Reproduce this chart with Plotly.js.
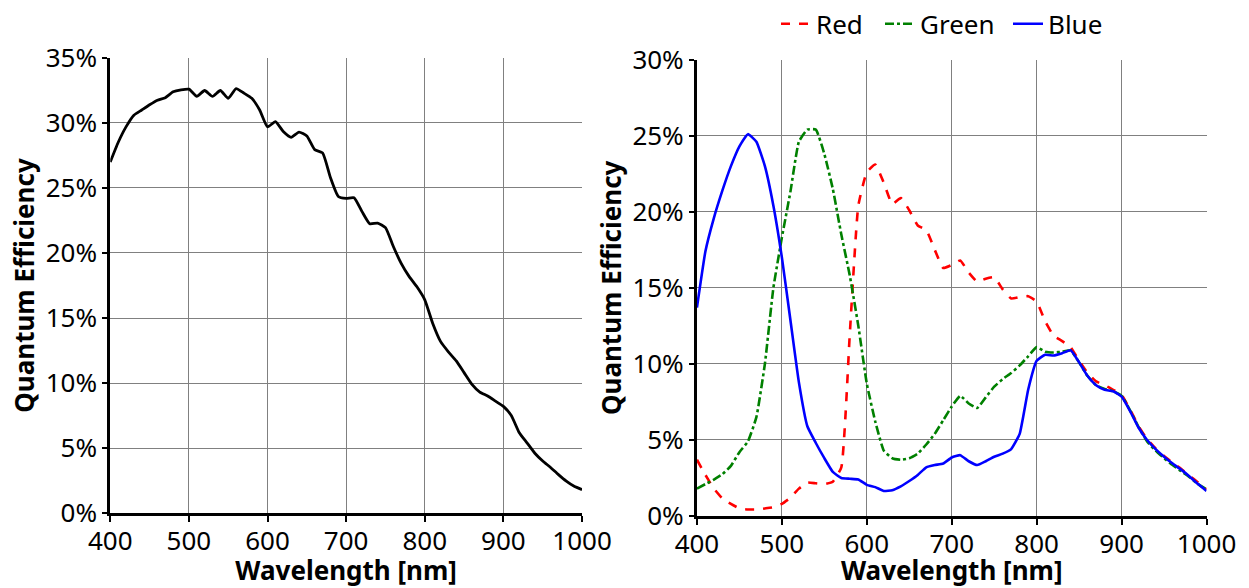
<!DOCTYPE html>
<html>
<head>
<meta charset="utf-8">
<script src="https://cdn.plot.ly/plotly-3.0.1.min.js"></script>
<style>
  html, body { margin: 0; padding: 0; background: #fff; }
  #chart { width: 1249px; height: 588px; }
</style>
</head>
<body>
<div id="chart"></div>
<script>
// ---- Data (wavelength in nm, quantum efficiency in %) ----
const monoWavelength = [400,410,420,430,440,450,460,470,480,490,500,510,520,530,540,550,560,570,580,590,600,610,620,630,640,650,660,670,680,690,700,710,720,730,740,750,760,770,780,790,800,810,820,830,840,850,860,870,880,890,900,910,920,930,940,950,960,970,980,990,1000];
const monoQE = [27.0,28.5,29.7,30.6,31.0,31.4,31.75,31.95,32.4,32.55,32.6,32.05,32.5,32.05,32.5,31.9,32.65,32.3,31.9,31.0,29.7,30.1,29.35,28.9,29.3,29.0,27.95,27.7,25.8,24.35,24.2,24.25,23.2,22.25,22.3,21.95,20.5,19.2,18.2,17.4,16.4,14.6,13.2,12.4,11.7,10.8,9.9,9.3,9.0,8.6,8.2,7.5,6.2,5.4,4.6,4.0,3.5,2.95,2.45,2.05,1.8];

const colorWavelength = [400,410,420,430,440,450,460,470,480,490,500,510,520,530,540,550,560,570,580,590,600,610,620,630,640,650,660,670,680,690,700,710,720,730,740,750,760,770,780,790,800,810,820,830,840,850,860,870,880,890,900,910,920,930,940,950,960,970,980,990,1000];
const redQE = [3.7,2.7,1.8,1.15,0.8,0.5,0.43,0.43,0.5,0.58,0.8,1.2,1.8,2.2,2.15,2.1,2.25,3.2,12.0,20.4,22.6,23.1,21.9,20.5,20.9,20.1,19.1,18.8,17.5,16.3,16.5,16.8,16.0,15.4,15.6,15.7,14.9,14.3,14.4,14.45,14.1,12.8,11.85,11.5,11.1,10.2,9.4,8.85,8.6,8.3,7.95,7.0,5.9,5.05,4.45,3.95,3.5,3.1,2.65,2.2,1.75];
const greenQE = [1.8,2.1,2.4,2.75,3.3,4.2,4.9,6.5,10.0,15.0,18.3,21.3,24.6,25.4,25.4,23.8,21.5,18.5,15.8,12.5,8.7,6.2,4.3,3.8,3.7,3.8,4.1,4.7,5.4,6.3,7.2,7.9,7.4,7.1,7.8,8.5,9.0,9.4,9.9,10.5,11.1,10.8,10.75,10.8,10.9,10.1,9.2,8.6,8.35,8.2,7.9,6.95,5.85,4.9,4.3,3.8,3.35,2.95,2.55,2.1,1.75];
const blueQE = [13.7,17.4,19.6,21.4,23.0,24.3,25.1,24.6,23.0,20.4,17.0,12.9,8.8,5.9,4.8,3.8,2.9,2.5,2.45,2.4,2.05,1.9,1.65,1.7,1.95,2.3,2.7,3.2,3.35,3.45,3.85,4.0,3.6,3.35,3.6,3.9,4.1,4.4,5.4,8.3,10.2,10.6,10.55,10.7,10.9,10.1,9.2,8.6,8.3,8.2,7.85,6.9,5.8,5.0,4.4,3.9,3.45,3.05,2.6,2.1,1.65];

const xTickVals = [400,500,600,700,800,900,1000];
const seriesNames = ['Red','Green','Blue'];

// ---- Styling ----
const FONT = '"Noto Sans", "Open Sans", sans-serif';
const TICKFONT = {family: FONT, size: 26, color: '#000'};
const TITLEFONT = {family: FONT, size: 26, color: '#000', weight: 'bold'};

function xAxis(domain, anchor) {
  return {
    domain: domain, anchor: anchor,
    range: [400, 1000], tickvals: xTickVals,
    showgrid: true, gridcolor: '#808080', gridwidth: 1,
    showline: true, linecolor: '#000', linewidth: 3,
    ticks: 'outside', ticklen: 6, tickwidth: 2, tickcolor: '#000',
    tickfont: TICKFONT, zeroline: false, ticklabelstandoff: -3,
    title: {text: 'Wavelength [nm]', font: TITLEFONT, standoff: 2}
  };
}
function yAxis(domain, anchor, max) {
  return {
    domain: domain, anchor: anchor,
    range: [0, max], dtick: 5, ticksuffix: '%',
    showgrid: true, gridcolor: '#808080', gridwidth: 1,
    showline: true, linecolor: '#000', linewidth: 3,
    ticks: 'outside', ticklen: 5, tickwidth: 2, tickcolor: '#000',
    tickfont: TICKFONT, zeroline: false,
    title: {text: 'Quantum Efficiency', font: TITLEFONT, standoff: 4}
  };
}

const traces = [
  {x: monoWavelength, y: monoQE, xaxis: 'x', yaxis: 'y', mode: 'lines',
   line: {color: '#000', width: 2.8, shape: 'spline', smoothing: 0.5}, showlegend: false, name: 'Mono'},
  {x: colorWavelength, y: redQE, xaxis: 'x2', yaxis: 'y2', mode: 'lines', name: seriesNames[0], legend: 'legend',
   line: {color: '#ff0000', width: 2.6, dash: 'dash', shape: 'spline', smoothing: 0.4}},
  {x: colorWavelength, y: greenQE, xaxis: 'x2', yaxis: 'y2', mode: 'lines', name: seriesNames[1], legend: 'legend2',
   line: {color: '#008000', width: 2.6, dash: 'dashdot', shape: 'spline', smoothing: 0.4}},
  {x: colorWavelength, y: blueQE, xaxis: 'x2', yaxis: 'y2', mode: 'lines', name: seriesNames[2], legend: 'legend3',
   line: {color: '#0000ff', width: 2.6, shape: 'spline', smoothing: 0.4}}
];

function legendAt(xpx) {
  return {
    orientation: 'h', x: xpx / 1249, xanchor: 'left', y: 1 - 16 / 588, yanchor: 'middle',
    font: {family: FONT, size: 26, color: '#000'},
    itemwidth: 30, bgcolor: 'rgba(0,0,0,0)', borderwidth: 0
  };
}

const layout = {
  width: 1249, height: 588,
  margin: {l: 0, r: 0, t: 0, b: 0},
  paper_bgcolor: '#fff', plot_bgcolor: '#fff',
  font: {family: FONT, color: '#000'},
  showlegend: true,
  legend: legendAt(776),
  legend2: legendAt(880),
  legend3: legendAt(1008),
  xaxis: xAxis([0.0883, 0.466], 'y'),
  yaxis: yAxis([0.1293, 0.9138], 'x', 35),
  xaxis2: xAxis([0.558, 0.966], 'y2'),
  yaxis2: yAxis([0.1241, 0.911], 'x2', 30)
};

Plotly.newPlot('chart', traces, layout, {staticPlot: true, displayModeBar: false});
</script>
</body>
</html>
